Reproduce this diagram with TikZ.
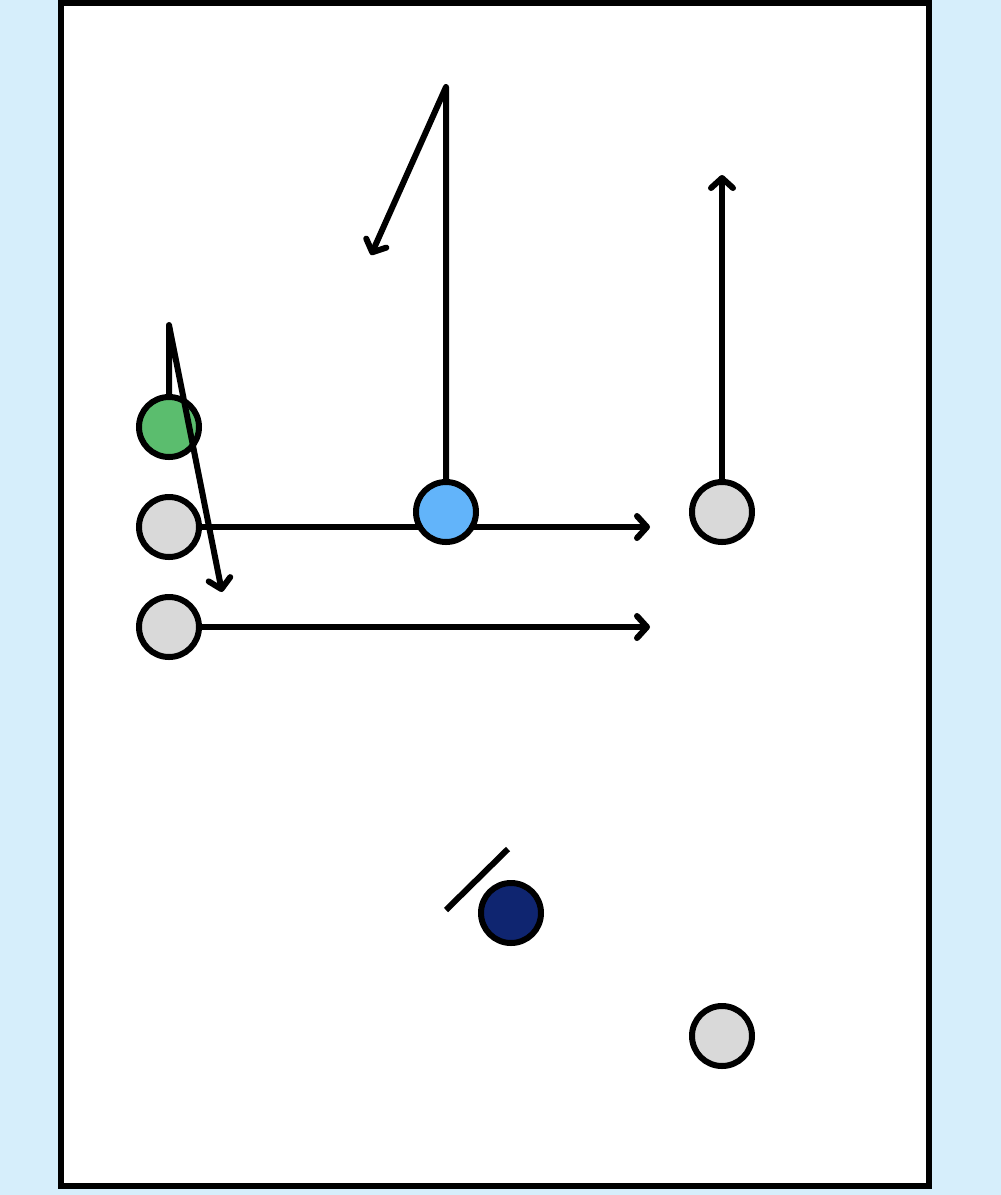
\documentclass[tikz,border=0pt]{standalone}
\usetikzlibrary{arrows.meta}
\definecolor{bgblue}{HTML}{D6EEFB}
\definecolor{pgreen}{HTML}{5BBD6E}
\definecolor{pblue}{HTML}{62B4FA}
\definecolor{pnavy}{HTML}{0F2570}
\definecolor{pgray}{HTML}{D9D9D9}
\begin{document}
\begin{tikzpicture}[x=1pt,y=-1pt,
  player/.style={circle,draw=black,line width=6pt,minimum size=60pt,inner sep=0pt},
  route/.style={draw=black,line width=6pt,line join=round,-{Straight Barb[length=10pt,width=22pt,round]}},
  block/.style={draw=black,line width=6pt}]
\fill[bgblue] (0,0) rectangle (1001,1195);
\useasboundingbox (0,0) rectangle (1001,1195);
\draw[line width=6pt,fill=white] (60.5,2.5) rectangle (928.5,1185.5);
% gray players left
\node[player,fill=pgray] (lb) at (169,527) {};
\node[player,fill=pgray] (lc) at (169,627) {};
\coordinate (lbend) at (650,527);
\coordinate (lcend) at (650,627);
\draw[route] (lb.east) -- (lbend);
\draw[route] (lc.east) -- (lcend);
% other players
\node[player,fill=pblue] (qb) at (446,512) {};
\node[player,fill=pgray] (rw) at (722,512) {};
\node[player,fill=pnavy] (df) at (511,913) {};
\node[player,fill=pgray] (rb) at (722,1036) {};
\node[player,fill=pgreen] (gr) at (169,427) {};
% routes
\coordinate (qbturn) at (446,87);
\coordinate (qbend) at (371,255);
\draw[route] (qb.north) -- (qbturn) -- (qbend);
\coordinate (rwend) at (722,175);
\draw[route] (rw.north) -- (rwend);
\coordinate (grturn) at (169,325);
\coordinate (grend) at (222,592);
\draw[route] (gr.north) -- (grturn) -- (grend);
% block
\coordinate (bk1) at (446,910);
\coordinate (bk2) at (508,849);
\draw[block] (bk1) -- (bk2);
\end{tikzpicture}
\end{document}
